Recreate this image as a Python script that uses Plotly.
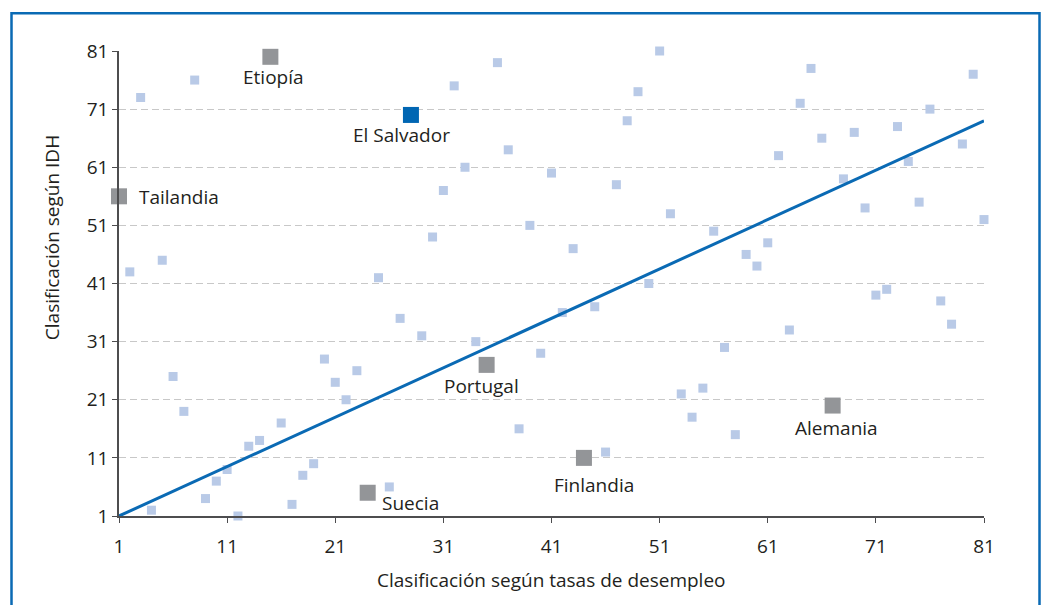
import plotly.graph_objects as go

# Ranking of each country by unemployment rate (x) and by HDI (y)
otros_x = [2, 3, 4, 5, 6, 7, 8, 9, 10, 11, 12, 13, 14, 16, 17, 18, 19, 20, 21, 22,
           23, 25, 26, 27, 29, 30, 31, 32, 33, 34, 36, 37, 38, 39, 40, 41, 42, 43,
           45, 46, 47, 48, 49, 50, 51, 52, 53, 54, 55, 56, 57, 58, 59, 60, 61, 62,
           63, 64, 65, 66, 68, 69, 70, 71, 72, 73, 74, 75, 76, 77, 78, 79, 80, 81]
otros_y = [43, 73, 2, 45, 25, 19, 76, 4, 7, 9, 1, 13, 14, 17, 3, 8, 10, 28, 24, 21,
           26, 42, 6, 35, 32, 49, 57, 75, 61, 31, 79, 64, 16, 51, 29, 60, 36, 47,
           37, 12, 58, 69, 74, 41, 81, 53, 22, 18, 23, 50, 30, 15, 46, 44, 48, 63,
           33, 72, 78, 66, 59, 67, 54, 39, 40, 68, 62, 55, 71, 38, 34, 65, 77, 52]

paises = ["Tailandia", "Etiopía", "Suecia", "Portugal", "Finlandia", "Alemania"]
paises_x = [1, 15, 24, 35, 44, 67]
paises_y = [56, 80, 5, 27, 11, 20]

salvador_nombre = "El Salvador"
salvador_x = [28]
salvador_y = [70]

# Fitted trend line end points
tendencia_x = [1, 81]
tendencia_y = [1, 69]

ticks = [1, 11, 21, 31, 41, 51, 61, 71, 81]

TXT = "#231f20"
FONT = "Open Sans"
AZUL = "#0a6ab4"

fig = go.Figure()

fig.add_trace(go.Scatter(
    x=otros_x, y=otros_y, mode="markers", cliponaxis=False,
    marker=dict(symbol="square", size=9, color="#b9cae7", line=dict(width=0)),
    hoverinfo="x+y", showlegend=False))

fig.add_trace(go.Scatter(
    x=tendencia_x, y=tendencia_y, mode="lines", cliponaxis=False,
    line=dict(color=AZUL, width=3), hoverinfo="skip", showlegend=False))

fig.add_trace(go.Scatter(
    x=paises_x, y=paises_y, mode="markers", cliponaxis=False, text=paises,
    marker=dict(symbol="square", size=16, color="#939598", line=dict(width=0)),
    hoverinfo="text+x+y", showlegend=False))

fig.add_trace(go.Scatter(
    x=salvador_x, y=salvador_y, mode="markers", cliponaxis=False,
    text=[salvador_nombre],
    marker=dict(symbol="square", size=16, color="#0066b3", line=dict(width=0)),
    hoverinfo="text+x+y", showlegend=False))

# label placement for each highlighted country: (xanchor, xshift, yshift)
colocacion = {
    "Tailandia": ("left", 18, -1),
    "Etiopía": ("center", 3, -20),
    "Suecia": ("left", 12, -10),
    "Portugal": ("center", -5, -21),
    "Finlandia": ("center", 10, -27),
    "Alemania": ("center", 4, -22),
}
for nombre, px, py in zip(paises, paises_x, paises_y):
    xa, dx, dy = colocacion[nombre]
    fig.add_annotation(x=px, y=py, text=nombre, showarrow=False,
                       xanchor=xa, yanchor="middle", xshift=dx, yshift=dy,
                       font=dict(family=FONT, size=19, color=TXT))
fig.add_annotation(x=salvador_x[0], y=salvador_y[0], text=salvador_nombre,
                   showarrow=False, xanchor="center", yanchor="middle",
                   xshift=-9, yshift=-20,
                   font=dict(family=FONT, size=19, color=TXT))

# axis titles
fig.add_annotation(xref="paper", yref="paper", x=0.5, y=-0.1375,
                   text="Clasificación según tasas de desempleo", showarrow=False,
                   xanchor="center", yanchor="middle",
                   font=dict(family=FONT, size=19, color=TXT))
fig.add_annotation(xref="paper", yref="paper", x=-0.0775, y=0.5996,
                   text="Clasificación según IDH", showarrow=False, textangle=-90,
                   xanchor="center", yanchor="middle",
                   font=dict(family=FONT, size=19, color=TXT))

# outer frame
fig.add_shape(type="rect", xref="paper", yref="paper",
              x0=(11.5 - 119) / 865, x1=(1039.5 - 119) / 865,
              y0=(516 - 640) / 465.3, y1=(516 - 13) / 465.3,
              line=dict(color=AZUL, width=2.5), fillcolor="rgba(0,0,0,0)",
              layer="below")

fig.update_xaxes(
    range=[1, 81], tickvals=ticks, ticks="outside", ticklen=5, tickwidth=1.2,
    tickcolor="#4d4d4f", showline=True, linecolor="#4d4d4f", linewidth=1.5,
    showgrid=False, zeroline=False, ticklabelstandoff=7,
    tickfont=dict(family=FONT, size=19, color=TXT))
fig.update_yaxes(
    range=[1, 81], tickvals=ticks, ticks="outside", ticklen=5, tickwidth=1.2,
    tickcolor="#4d4d4f", showline=True, linecolor="#4d4d4f", linewidth=1.5,
    showgrid=True, gridcolor="#c8c8c8", gridwidth=1, griddash="7px,4px",
    zeroline=False, tickfont=dict(family=FONT, size=19, color=TXT))

fig.update_layout(
    width=1042, height=605,
    margin=dict(l=119, r=58, t=51, b=89),
    paper_bgcolor="white", plot_bgcolor="white",
    showlegend=False)

fig.write_html("out.html")
